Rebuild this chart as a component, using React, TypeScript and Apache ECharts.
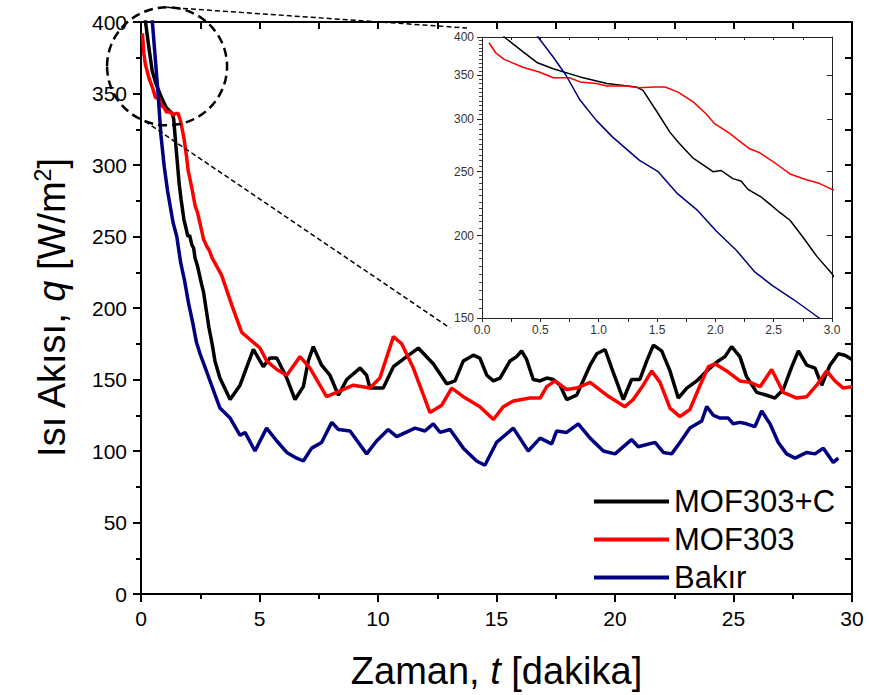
import React, { useEffect, useRef } from 'react';
import * as echarts from 'echarts';

const SERIES_NAMES = ['MOF303+C', 'MOF303', 'Bakır'];
const COLORS = ['#000000', '#ff0000', '#000080'];

// MOF303+C (black)
const tBlack = [0.1, 0.19, 0.35, 0.47, 0.61, 0.84, 1.07, 1.32, 1.38, 1.49, 1.61, 1.69, 1.81, 1.98, 2.05, 2.15, 2.22, 2.28, 2.39, 2.47, 2.55, 2.64, 2.75, 2.87, 3.0, 3.12, 3.33, 3.76, 4.18, 4.74, 5.16, 5.44, 5.73, 6.15, 6.5, 6.85, 7.06, 7.27, 7.62, 7.97, 8.33, 8.68, 9.24, 9.52, 9.66, 10.22, 10.65, 11.21, 11.7, 12.33, 12.9, 13.25, 13.6, 14.02, 14.3, 14.59, 14.87, 15.15, 15.57, 15.85, 16.06, 16.27, 16.55, 16.84, 17.12, 17.4, 17.68, 17.96, 18.38, 18.95, 19.23, 19.58, 19.86, 20.35, 20.7, 21.05, 21.34, 21.62, 21.97, 22.32, 22.67, 23.03, 23.45, 23.87, 24.36, 24.64, 24.92, 25.27, 25.55, 25.98, 26.4, 26.75, 27.1, 27.46, 27.74, 28.09, 28.44, 28.72, 29.07, 29.42, 29.7, 30.0];
const qBlack = [430, 400, 380, 366, 358, 348, 340, 336, 332, 310, 287, 276, 262, 250, 251, 244, 242, 235, 229, 223, 217, 211, 199, 186, 175, 163, 151, 136, 146, 171, 159, 165, 165, 151, 136, 145, 163, 173, 160, 153, 139, 150, 158, 153, 144, 144, 159, 166, 172, 161, 147, 149, 163, 167, 165, 153, 149, 151, 163, 166, 170, 164, 150, 149, 151, 150, 146, 136, 139, 160, 168, 171, 158, 136, 150, 150, 163, 174, 170, 156, 137, 144, 149, 156, 163, 166, 173, 166, 152, 141, 139, 137, 143, 159, 170, 160, 158, 146, 160, 168, 167, 164];

// MOF303 (red)
const tRed = [0.06, 0.12, 0.19, 0.35, 0.49, 0.61, 0.75, 0.84, 0.98, 1.07, 1.24, 1.35, 1.47, 1.57, 1.68, 1.81, 1.92, 1.99, 2.12, 2.29, 2.38, 2.52, 2.64, 2.78, 2.89, 3.0, 3.4, 3.83, 4.25, 4.6, 5.02, 5.3, 5.73, 6.15, 6.71, 7.13, 7.83, 8.4, 8.96, 9.66, 10.08, 10.65, 11.0, 11.49, 12.19, 12.69, 13.11, 13.6, 14.3, 14.87, 15.29, 15.71, 16.41, 16.84, 17.12, 17.47, 17.96, 18.38, 18.95, 19.65, 20.42, 20.77, 21.19, 21.55, 21.9, 22.32, 22.74, 23.16, 23.59, 23.94, 24.22, 24.71, 25.27, 25.7, 26.12, 26.61, 27.1, 27.67, 28.09, 28.51, 28.93, 29.28, 29.63, 30.0];
const qRed = [392, 378, 370, 360, 354, 347, 347, 342, 340, 337, 337, 335, 336, 336, 330, 319, 306, 296, 286, 271, 267, 257, 248, 243, 240, 235, 223, 202, 183, 178, 172, 163, 157, 153, 166, 158, 138, 142, 146, 144, 151, 180, 175, 158, 127, 132, 144, 138, 131, 122, 131, 135, 137, 137, 145, 149, 143, 144, 148, 139, 131, 136, 146, 156, 148, 130, 124, 129, 146, 159, 161, 156, 149, 148, 145, 157, 141, 137, 138, 146, 156, 149, 144, 145];

// Bakır (navy)
const tBlue = [0.3, 0.48, 0.61, 0.72, 0.84, 0.98, 1.12, 1.35, 1.51, 1.67, 1.84, 2.01, 2.18, 2.34, 2.49, 2.67, 2.89, 3.33, 3.76, 4.18, 4.39, 4.81, 5.3, 5.73, 6.15, 6.57, 6.85, 7.2, 7.62, 8.05, 8.33, 8.82, 9.52, 9.94, 10.43, 10.79, 11.56, 11.98, 12.33, 12.62, 13.04, 13.6, 14.16, 14.51, 15.0, 15.71, 16.34, 16.84, 17.33, 17.54, 17.96, 18.45, 18.95, 19.51, 20.0, 20.7, 20.98, 21.69, 22.04, 22.39, 22.74, 23.16, 23.66, 23.87, 24.15, 24.43, 24.78, 24.99, 25.27, 25.55, 25.9, 26.19, 26.54, 26.89, 27.24, 27.6, 28.09, 28.44, 28.79, 29.21, 29.42];
const qBlue = [450, 400, 373, 350, 321, 299, 282, 260, 250, 232, 219, 203, 190, 176, 168, 160, 150, 130, 123, 111, 113, 100, 116, 107, 99, 95, 93, 102, 106, 120, 115, 114, 98, 107, 115, 110, 116, 114, 119, 113, 115, 102, 93, 90, 106, 116, 100, 109, 105, 114, 113, 119, 109, 100, 98, 108, 103, 106, 99, 98, 106, 116, 121, 131, 125, 123, 123, 119, 120, 119, 117, 128, 119, 106, 98, 95, 99, 98, 102, 92, 95];

const INSET_Y_TICKS = [150, 200, 250, 300, 350, 400];
const ZOOM_CENTER = [1.1, 369];

const FONT = '"Liberation Sans", Arial, Helvetica, sans-serif';
const L = (v: number) => Math.log10(v);

export default function App() {
  const ref = useRef<HTMLDivElement>(null);
  useEffect(() => {
    if (!ref.current) return;
    const chart = echarts.init(ref.current, null, { renderer: 'svg' });
    const ts = [tBlack, tRed, tBlue];
    const qs = [qBlack, qRed, qBlue];
    const insetMinor: number[] = [];
    for (let v = 155; v < 400; v += 5) if (v % 50 !== 0) insetMinor.push(L(v));
    const insetMajor = INSET_Y_TICKS.map(L);

    const axLine = (w: number, c: string) => ({ show: true, onZero: false, lineStyle: { color: c, width: w } });
    const tk = (len: number, inside: boolean, w: number, c: string, extra: any = {}) => ({ show: true, inside, length: len, lineStyle: { color: c, width: w }, ...extra });

    const mainSeries = SERIES_NAMES.map((n, i) => ({
      name: n,
      type: 'line',
      xAxisIndex: 0,
      yAxisIndex: 0,
      symbol: 'none',
      showSymbol: false,
      clip: true,
      z: 3,
      lineStyle: { color: COLORS[i], width: 3.5 },
      itemStyle: { color: COLORS[i] },
      data: ts[i].map((t, k) => [t, qs[i][k]]),
    }));
    const insetSeries = SERIES_NAMES.map((n, i) => ({
      name: n + ' (inset)',
      type: 'line',
      xAxisIndex: 2,
      yAxisIndex: 2,
      symbol: 'none',
      showSymbol: false,
      clip: true,
      z: 6,
      lineStyle: { color: COLORS[i], width: 1.5 },
      itemStyle: { color: COLORS[i] },
      data: ts[i].map((t, k) => [t, L(qs[i][k])]),
    }));

    const option: any = {
      animation: false,
      backgroundColor: '#ffffff',
      textStyle: { fontFamily: FONT },
      grid: [
        { left: 141, top: 22, width: 711, height: 575, show: false },
        { left: 482, top: 37, width: 350, height: 281, show: true, backgroundColor: '#ffffff', borderWidth: 0 },
      ],
      legend: {
        data: SERIES_NAMES,
        orient: 'vertical',
        left: 589,
        top: 481,
        icon: 'rect',
        itemWidth: 75,
        itemHeight: 4,
        itemGap: 7,
        textStyle: { fontSize: 31, lineHeight: 30, fontFamily: FONT, color: '#000', padding: [0, 0, 0, 0] },
      },
      xAxis: [
        {
          gridIndex: 0, type: 'value', min: 0, max: 30, interval: 5, position: 'bottom',
          axisLine: axLine(2, '#000'),
          axisTick: tk(8, false, 2, '#000'),
          minorTick: { show: true, splitNumber: 2, length: 5, lineStyle: { color: '#000', width: 2 } },
          splitLine: { show: false },
          axisLabel: { fontSize: 21, color: '#000', fontFamily: FONT, margin: 14 },
          name: '{n|Zaman, }{i|t}{n| [dakika]}',
          nameLocation: 'middle',
          nameGap: 58,
          nameTextStyle: {
            fontFamily: FONT, color: '#000', fontSize: 38,
            rich: { n: { fontSize: 38, fontFamily: FONT, color: '#000' }, i: { fontSize: 38, fontStyle: 'italic', fontFamily: FONT, color: '#000' } },
          },
        },
        {
          gridIndex: 0, type: 'value', min: 0, max: 30, interval: 2.5, position: 'top',
          axisLine: axLine(2, '#000'),
          axisTick: tk(7, true, 2, '#000'),
          splitLine: { show: false },
          axisLabel: { show: false },
        },
        {
          gridIndex: 1, type: 'value', min: 0, max: 3, interval: 0.25, position: 'bottom',
          axisLine: axLine(1, '#222'),
          axisTick: tk(4, false, 1, '#222'),
          splitLine: { show: false },
          axisLabel: {
            fontSize: 12, color: '#333', fontFamily: FONT, margin: 6,
            formatter: (v: number) => (Math.abs(v * 2 - Math.round(v * 2)) < 1e-6 ? v.toFixed(1) : ''),
          },
        },
        {
          gridIndex: 1, type: 'value', min: 0, max: 3, interval: 0.25, position: 'top',
          axisLine: axLine(1, '#222'),
          axisTick: tk(3, true, 1, '#222'),
          splitLine: { show: false },
          axisLabel: { show: false },
        },
      ],
      yAxis: [
        {
          gridIndex: 0, type: 'value', min: 0, max: 400, interval: 50, position: 'left',
          axisLine: axLine(2, '#000'),
          axisTick: tk(8, false, 2, '#000'),
          minorTick: { show: true, splitNumber: 2, length: 5, lineStyle: { color: '#000', width: 2 } },
          splitLine: { show: false },
          axisLabel: { fontSize: 21, color: '#000', fontFamily: FONT, margin: 14 },
          name: '{n|Isı Akısı, }{i|q}{n| [W/m}{s|2}{n|]}',
          nameLocation: 'middle',
          nameGap: 68,
          nameTextStyle: {
            fontFamily: FONT, color: '#000', fontSize: 38,
            rich: {
              n: { fontSize: 38, fontFamily: FONT, color: '#000', lineHeight: 42 },
              i: { fontSize: 38, fontStyle: 'italic', fontFamily: FONT, color: '#000', lineHeight: 42 },
              s: { fontSize: 23, fontFamily: FONT, color: '#000', verticalAlign: 'top', lineHeight: 42 },
            },
          },
        },
        {
          gridIndex: 0, type: 'value', min: 0, max: 400, interval: 25, position: 'right',
          axisLine: axLine(2, '#000'),
          axisTick: tk(7, true, 2, '#000'),
          splitLine: { show: false },
          axisLabel: { show: false },
        },
        {
          gridIndex: 1, type: 'value', min: L(150), max: L(400), position: 'left',
          axisLine: axLine(1, '#222'),
          axisTick: tk(5, false, 1, '#222', { customValues: insetMajor }),
          splitLine: { show: false },
          axisLabel: {
            fontSize: 12, color: '#333', fontFamily: FONT, margin: 8,
            customValues: insetMajor,
            formatter: (v: number) => String(Math.round(Math.pow(10, v))),
          },
        },
        {
          gridIndex: 1, type: 'value', min: L(150), max: L(400), position: 'left',
          axisLine: { show: false },
          axisTick: tk(3, false, 1, '#444', { customValues: insetMinor }),
          splitLine: { show: false },
          axisLabel: { show: false },
        },
        {
          gridIndex: 1, type: 'value', min: L(150), max: L(400), position: 'right',
          axisLine: axLine(1, '#222'),
          axisTick: tk(5, true, 1, '#222', { customValues: insetMajor }),
          splitLine: { show: false },
          axisLabel: { show: false },
        },
        {
          gridIndex: 1, type: 'value', min: L(150), max: L(400), position: 'right',
          axisLine: { show: false },
          axisTick: tk(3, true, 1, '#444', { customValues: insetMinor }),
          splitLine: { show: false },
          axisLabel: { show: false },
        },
      ],
      series: [...mainSeries, ...insetSeries],
    };
    chart.setOption(option);

    const c = chart.convertToPixel({ xAxisIndex: 0, yAxisIndex: 0 }, ZOOM_CENTER) as number[];
    const tl = chart.convertToPixel({ xAxisIndex: 2, yAxisIndex: 2 }, [0, L(400)]) as number[];
    const bl = chart.convertToPixel({ xAxisIndex: 2, yAxisIndex: 2 }, [0, L(150)]) as number[];
    if (c && tl && bl) {
      chart.setOption({
        graphic: [
          {
            type: 'ellipse', z: 20,
            shape: { cx: c[0], cy: c[1], rx: 60, ry: 59 },
            style: { fill: 'none', stroke: '#000', lineWidth: 2.5, lineDash: [9, 5] },
          },
          {
            type: 'line', z: 20,
            shape: { x1: c[0], y1: c[1] - 59, x2: tl[0] - 15, y2: tl[1] - 9 },
            style: { stroke: '#000', lineWidth: 1.5, lineDash: [5, 3] },
          },
          {
            type: 'line', z: 20,
            shape: { x1: c[0] - 22, y1: c[1] + 55, x2: bl[0] - 32, y2: bl[1] + 10 },
            style: { stroke: '#000', lineWidth: 1.5, lineDash: [5, 3] },
          },
        ],
      });
    }
    return () => chart.dispose();
  }, []);
  return <div ref={ref} style={{ width: 869, height: 695, position: 'absolute', left: 0, top: 0 }} />;
}
